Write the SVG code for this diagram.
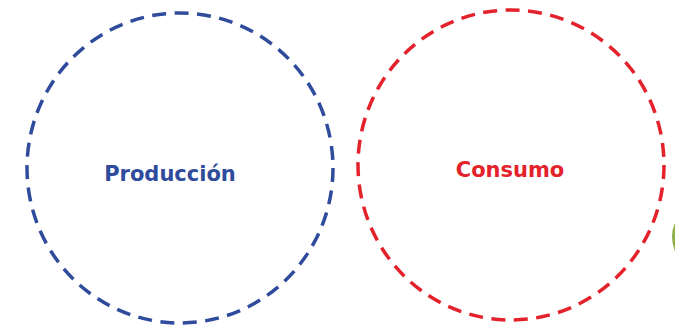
<svg xmlns="http://www.w3.org/2000/svg" width="675" height="332" viewBox="0 0 675 332">
<style>
.ring{fill:none;stroke-width:3.5;stroke-dasharray:14 8.5}
.lbl{font-family:"DejaVu Sans",Verdana,sans-serif;font-weight:bold;font-size:21px;text-anchor:middle}
</style>
<rect width="675" height="332" fill="#ffffff"/>
<g id="produccion">
<ellipse class="ring" cx="180" cy="168" rx="153" ry="155" stroke="#2f4b9b"/>
<text class="lbl" x="170" y="181" fill="#2f4b9b">Producción</text>
</g>
<g id="consumo">
<ellipse class="ring" cx="511" cy="165" rx="153" ry="155" stroke="#e3222c"/>
<text class="lbl" x="510" y="177" fill="#e3222c">Consumo</text>
</g>
<g id="otro">
<path d="M676 224 Q671 236 676 250" fill="none" stroke="#8db04a" stroke-width="3"/>
</g>
<g id="connectors"></g>
</svg>
